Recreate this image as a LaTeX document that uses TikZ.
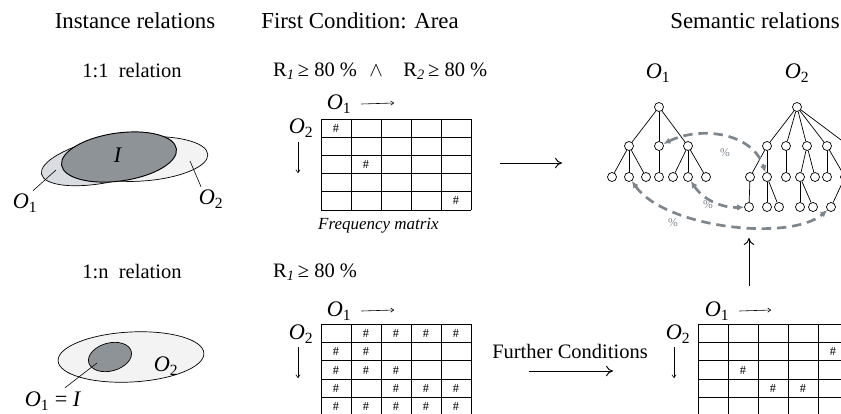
\documentclass[tikz,border=0pt]{standalone}
\usepackage{fontspec}
\setmainfont{Liberation Serif}
\usetikzlibrary{arrows.meta}

\definecolor{setgray}{HTML}{D9DDE1}
\definecolor{setwhite}{HTML}{F3F3F3}
\definecolor{interdark}{HTML}{8E9398}
\definecolor{linkgray}{HTML}{7E868D}

\newcommand{\Ob}[1]{\textit{O}\textsubscript{#1}}

\begin{document}
\begin{tikzpicture}[x=0.03cm, y=-0.03cm,
    title/.style={font=\fontsize{19.5}{22}\selectfont},
    sub/.style={font=\fontsize{17.5}{19}\selectfont},
    olabel/.style={font=\fontsize{19}{21}\selectfont, inner sep=0pt},
    hashmark/.style={font=\fontsize{10.5}{12}\selectfont, inner sep=0pt},
    gridline/.style={line width=0.7pt},
    vertex/.style={circle, draw, fill=white, line width=0.6pt, minimum size=0.27cm, inner sep=0pt},
    axisarrow/.style={-{To[length=3pt,width=4pt]}, line width=0.5pt},
    flow/.style={-{To[length=6pt,width=9pt]}, line width=0.8pt},
    link/.style={{Latex[length=6pt,width=5.5pt]}-{Latex[length=6pt,width=5.5pt]}, linkgray, line width=2.3pt, dash pattern=on 8pt off 5pt},
    pct/.style={font=\fontsize{10}{12}\selectfont, text=linkgray, inner sep=0pt}
]
\useasboundingbox (0,0) rectangle (841,413);
\clip (0,0) rectangle (841,413);

% Column titles
\node[title] (ttlinst) at (135,21) {Instance relations};
\node[title] (ttlarea) at (360,21) {First Condition: Area};
\node[title] (ttlsem) at (755,21) {Semantic relations};

% Row 1: 1:1 relation
\node[sub] (rel11) at (132,71) {1:1\ \ relation};
\node[sub, anchor=west] (cond1) at (269,71) {R\textsubscript{\textit{1}}\,≥ 80 \%\hspace{0.6em}$\wedge$\hspace{1em}R\textsubscript{\textit{2}}\,≥ 80 \%};

\draw[fill=setwhite, line width=0.6pt, rotate around={4:(142,159)}] (142,159) ellipse [x radius=66, y radius=22];
\draw[fill=setgray, line width=0.6pt, rotate around={12:(108,160)}] (108,160) ellipse [x radius=68, y radius=22];
\draw[fill=interdark, line width=0.8pt, rotate around={8:(119,157)}] (119,157) ellipse [x radius=58, y radius=24];
\node[olabel] (lblI) at (118,155) {\textit{I}};
\node[olabel] (lblO1a) at (25,203) {\Ob{1}};
\node[olabel] (lblO2a) at (211,199) {\Ob{2}};
\coordinate (ptO1a) at (56,170);
\coordinate (ptO2a) at (190,161);
\draw[line width=0.5pt] (lblO1a.north) ++(8,-3) -- (ptO1a);
\draw[line width=0.5pt] (lblO2a.north) ++(-10,-3) -- (ptO2a);

% Frequency matrix (top)
\node[olabel] (tO1) at (339,104) {\Ob{1}};
\coordinate (tO1end) at (394,103);
\draw[axisarrow] (tO1.east) ++(10,0) -- (tO1end);
\node[olabel] (tO2) at (301,128) {\Ob{2}};
\coordinate (tO2end) at (298,173);
\draw[axisarrow] (tO2end) ++(0,-31) -- (tO2end);
\foreach \i in {0,...,5}
    \draw[gridline] ({321+30*\i},119) -- ({321+30*\i},210);
\foreach \j in {0,...,5}
    \draw[gridline] (321,{119+18.2*\j}) -- (471,{119+18.2*\j});
\foreach \r/\c in {1/1,3/2,5/5}
    \node[hashmark] (tf-\r-\c) at ({321+30*\c-15},{119+18.2*\r-9.1}) {\#};
\node[font=\fontsize{14.5}{16}\selectfont\itshape, anchor=west] (freq) at (314,226) {Frequency matrix};

\coordinate (flowA) at (500,163);
\coordinate (flowB) at (562,163);
\draw[flow] (flowA) -- (flowB);

% Ontology O1
\node[olabel] (trO1) at (658,73) {\Ob{1}};
\node[vertex] (a0) at (659,107) {};
\node[vertex] (a1) at (629,146) {};
\node[vertex] (a2) at (659,146) {};
\node[vertex] (a3) at (688,146) {};
\node[vertex] (a11) at (612,177) {};
\node[vertex] (a12) at (629,177) {};
\node[vertex] (a13) at (646,177) {};
\node[vertex] (a21) at (659,177) {};
\node[vertex] (a31) at (673,177) {};
\node[vertex] (a32) at (688,177) {};
\node[vertex] (a33) at (706,177) {};
\foreach \u/\v in {a0/a1,a0/a2,a0/a3,a1/a11,a1/a12,a1/a13,a2/a21,a3/a31,a3/a32,a3/a33}
    \draw[line width=0.6pt] (\u) -- (\v);

% Ontology O2
\node[olabel] (trO2) at (797,73) {\Ob{2}};
\node[vertex] (b0) at (797,107) {};
\node[vertex] (b1) at (767,146) {};
\node[vertex] (b2) at (786,146) {};
\node[vertex] (b3) at (807,146) {};
\node[vertex] (b4) at (827,146) {};
\node[vertex] (b5) at (849,146) {};
\node[vertex] (b11) at (750,177) {};
\node[vertex] (b12) at (767,177) {};
\node[vertex] (b21) at (786,177) {};
\node[vertex] (b31) at (800,177) {};
\node[vertex] (b32) at (815,177) {};
\node[vertex] (b41) at (827,177) {};
\node[vertex] (b42) at (845,177) {};
\node[vertex] (c11) at (749,207) {};
\node[vertex] (c12) at (767,207) {};
\node[vertex] (c13) at (779,207) {};
\node[vertex] (c31) at (800,207) {};
\node[vertex] (c32) at (813,207) {};
\node[vertex] (c41) at (831,207) {};
\node[vertex] (c42) at (846,207) {};
\foreach \u/\v in {b0/b1,b0/b2,b0/b3,b0/b4,b0/b5,b1/b11,b1/b12,b2/b21,b3/b31,b3/b32,b4/b41,b4/b42,
                   b11/c11,b12/c12,b12/c13,b31/c31,b31/c32,b42/c41,b42/c42}
    \draw[line width=0.6pt] (\u) -- (\v);

% Correspondences
\draw[link] (a2) .. controls (700,126) and (752,132) .. (b12);
\node[pct] (pctA) at (725,153) {\%};
\draw[link] (a32) .. controls (705,202) and (725,208) .. (c11);
\node[pct] (pctB) at (708,205) {\%};
\draw[link] (a12) .. controls (665,228) and (790,242) .. (c41);
\node[pct] (pctC) at (673,223) {\%};

\coordinate (upA) at (749,286);
\coordinate (upB) at (749,238);
\draw[flow] (upA) -- (upB);

% Row 2: 1:n relation
\node[sub] (rel1n) at (132,272) {1:n\ \ relation};
\node[sub, anchor=west] (cond2) at (269,272) {R\textsubscript{\textit{1}}\,≥ 80 \%};

\draw[fill=setwhite, line width=0.6pt, rotate around={3:(131,357)}] (131,357) ellipse [x radius=73, y radius=25];
\draw[fill=interdark, line width=0.6pt, rotate around={15:(110,357)}] (110,357) ellipse [x radius=22, y radius=14];
\node[olabel] (lblO2b) at (166,366) {\Ob{2}};
\node[olabel] (lblO1b) at (53,401) {\Ob{1} = \textit{I}};
\coordinate (ptO1b) at (97,363);
\draw[line width=0.5pt] (lblO1b.north) ++(12,-4) -- (ptO1b);

% Frequency matrix (area)
\node[olabel] (mO1) at (339,311) {\Ob{1}};
\coordinate (mO1end) at (394,310);
\draw[axisarrow] (mO1.east) ++(10,0) -- (mO1end);
\node[olabel] (mO2) at (301,334) {\Ob{2}};
\coordinate (mO2end) at (298,378);
\draw[axisarrow] (mO2end) ++(0,-31) -- (mO2end);
\foreach \i in {0,...,5}
    \draw[gridline] ({321+30*\i},324) -- ({321+30*\i},420);
\foreach \j in {0,...,5}
    \draw[gridline] (321,{324+18.4*\j}) -- (471,{324+18.4*\j});
\foreach \r/\c in {1/2,1/3,1/4,1/5,2/1,2/2,3/1,3/2,3/3,4/1,4/3,4/4,4/5,5/1,5/2,5/3,5/4,5/5}
    \node[hashmark] (mf-\r-\c) at ({321+30*\c-15},{324+18.4*\r-9.2}) {\#};

\node[sub] (further) at (570,351) {Further Conditions};
\coordinate (furtherA) at (529,371);
\coordinate (furtherB) at (613,371);
\draw[flow] (furtherA) -- (furtherB);

% Frequency matrix (further conditions)
\node[olabel] (fO1) at (717,311) {\Ob{1}};
\coordinate (fO1end) at (771,310);
\draw[axisarrow] (fO1.east) ++(10,0) -- (fO1end);
\node[olabel] (fO2) at (678,334) {\Ob{2}};
\coordinate (fO2end) at (674,378);
\draw[axisarrow] (fO2end) ++(0,-31) -- (fO2end);
\foreach \i in {0,...,5}
    \draw[gridline] ({698+30*\i},324) -- ({698+30*\i},420);
\foreach \j in {0,...,5}
    \draw[gridline] (698,{324+18.4*\j}) -- (860,{324+18.4*\j});
\foreach \r/\c in {2/5,3/2,4/3,4/4}
    \node[hashmark] (ff-\r-\c) at ({698+30*\c-15},{324+18.4*\r-9.2}) {\#};

\end{tikzpicture}
\end{document}
